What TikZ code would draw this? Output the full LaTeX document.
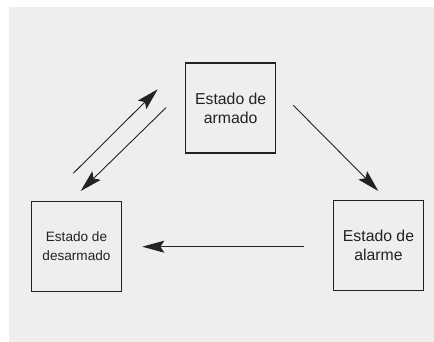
\documentclass[tikz,border=0pt]{standalone}
\usepackage{fontspec}
\setmainfont{Liberation Sans}
\usetikzlibrary{arrows.meta}
\definecolor{bg}{HTML}{EEEEEE}
\definecolor{ink}{HTML}{222222}
\begin{document}
\begin{tikzpicture}[x=1pt,y=-1pt,
  statebox/.style={draw=ink,line width=1.1pt,minimum width=90pt,minimum height=90pt,inner sep=0pt,align=center,text=ink,font=\fontsize{15.8}{19}\selectfont},
  smallstate/.style={statebox,font=\fontsize{13.6}{19}\selectfont},
  conn/.style={draw=ink,line width=0.9pt,-{Stealth[length=22pt,width=12pt,inset=4pt]}}]
\useasboundingbox (0,0) rectangle (434,342);
\fill[bg] (9,7) rectangle (434,342);
\node[statebox] (arm) at (230.7,108) {Estado de\\armado};
\node[smallstate] (des) at (76.5,246.3) {Estado de\\desarmado};
\node[statebox] (alm) at (378.5,245.7) {Estado de\\alarme};
\coordinate (u1) at (73.3,173.3);
\coordinate (u2) at (157.7,89.3);
\coordinate (d1) at (166,107.7);
\coordinate (d2) at (80.7,191);
\coordinate (r1) at (293.3,105.3);
\coordinate (r2) at (378.3,191);
\coordinate (h1) at (304.3,246.7);
\coordinate (h2) at (142.3,246.7);
\draw[conn] (u1) -- (u2);
\draw[conn] (d1) -- (d2);
\draw[conn] (r1) -- (r2);
\draw[conn] (h1) -- (h2);
\end{tikzpicture}
\end{document}
